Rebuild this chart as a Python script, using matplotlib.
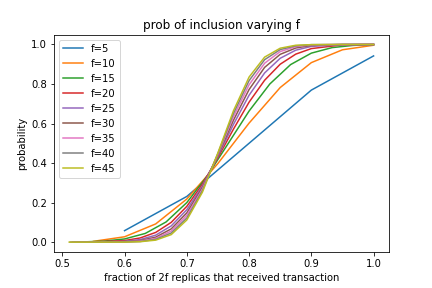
import matplotlib
matplotlib.use("Agg")
import matplotlib.pyplot as plt

# fraction of the 2f replicas that got the transaction, and probability
F_VALUES = [5, 10, 15, 20, 25, 30, 35, 40, 45]

X_F5  = [0.6, 0.7, 0.8, 0.9, 1.0]
Y_F5  = [0.058, 0.231, 0.500, 0.769, 0.942]

X_F10 = [0.55, 0.60, 0.65, 0.70, 0.75, 0.80, 0.85, 0.90, 0.95, 1.00]
Y_F10 = [0.004, 0.027, 0.092, 0.218, 0.398, 0.602, 0.782, 0.908, 0.973, 0.996]

X_F15 = [16/30, 17/30, 18/30, 19/30, 20/30, 21/30, 22/30, 23/30,
         24/30, 25/30, 26/30, 27/30, 28/30, 29/30, 1.0]
Y_F15 = [0.001, 0.005, 0.016, 0.044, 0.102, 0.200, 0.337, 0.500,
         0.663, 0.800, 0.898, 0.956, 0.984, 0.995, 0.999]

# larger f: values read on a common grid
X_GRID = [0.55, 0.6, 0.625, 0.65, 0.675, 0.7, 0.725, 0.75, 0.775,
          0.8, 0.825, 0.85, 0.875, 0.9, 0.95, 1.0]
X_START = {20: 0.525, 25: 0.52, 30: 0.5167, 35: 0.5143, 40: 0.5125, 45: 0.5111}
Y_F20 = [0.001, 0.008, 0.021, 0.049, 0.100, 0.181, 0.293, 0.428, 0.572,
         0.708, 0.819, 0.900, 0.951, 0.979, 0.998, 1.0]
Y_F25 = [0.000, 0.004, 0.013, 0.035, 0.082, 0.164, 0.284, 0.435, 0.596,
         0.743, 0.856, 0.930, 0.971, 0.990, 0.999, 1.0]
Y_F30 = [0.000, 0.002, 0.008, 0.025, 0.067, 0.148, 0.276, 0.441, 0.617,
         0.772, 0.884, 0.950, 0.982, 0.995, 1.0, 1.0]
Y_F35 = [0.000, 0.001, 0.005, 0.019, 0.056, 0.135, 0.268, 0.445, 0.635,
         0.796, 0.905, 0.964, 0.989, 0.998, 1.0, 1.0]
Y_F40 = [0.000, 0.001, 0.003, 0.014, 0.046, 0.122, 0.260, 0.449, 0.651,
         0.817, 0.923, 0.974, 0.993, 0.999, 1.0, 1.0]
Y_F45 = [0.000, 0.000, 0.002, 0.010, 0.038, 0.112, 0.252, 0.452, 0.665,
         0.835, 0.936, 0.981, 0.996, 0.999, 1.0, 1.0]

series = {
    5: (X_F5, Y_F5),
    10: (X_F10, Y_F10),
    15: (X_F15, Y_F15),
    20: ([X_START[20]] + X_GRID, [0.0] + Y_F20),
    25: ([X_START[25]] + X_GRID, [0.0] + Y_F25),
    30: ([X_START[30]] + X_GRID, [0.0] + Y_F30),
    35: ([X_START[35]] + X_GRID, [0.0] + Y_F35),
    40: ([X_START[40]] + X_GRID, [0.0] + Y_F40),
    45: ([X_START[45]] + X_GRID, [0.0] + Y_F45),
}

fig, ax = plt.subplots(figsize=(6, 4), dpi=72)
fig.subplots_adjust(left=0.125, right=0.9, bottom=0.125, top=0.88)

for f in F_VALUES:
    xs, ys = series[f]
    ax.plot(xs, ys, label=f"f={f}")

ax.set_title("prob of inclusion varying f")
ax.set_xlabel("fraction of 2f replicas that received transaction")
ax.set_ylabel("probability")
ax.legend(loc="upper left")

fig.savefig("out.png", dpi=72)
